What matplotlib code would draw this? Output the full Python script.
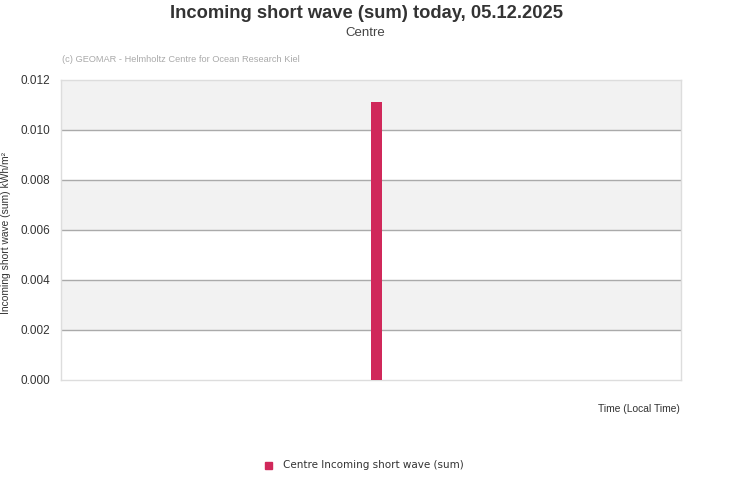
import numpy as np
import matplotlib.pyplot as plt
from matplotlib.patches import Rectangle

# data
hours = [12.2]
values = [0.01112]
yticks = [0.0, 0.002, 0.004, 0.006, 0.008, 0.010, 0.012]
bar_color = '#d0285a'

plt.rcParams['font.family'] = ['Liberation Sans', 'DejaVu Sans']

fig = plt.figure(figsize=(7.31, 5.0), dpi=100)
ax = fig.add_axes([61/731, 120/500, 620/731, 300/500])

ax.set_xlim(0, 24)
ax.set_ylim(0, 0.012)

# alternating bands
for i in range(len(yticks) - 1):
    if i % 2 == 1:
        ax.axhspan(yticks[i], yticks[i+1], color='#f2f2f2', zorder=0, lw=0)
for t in yticks[1:-1]:
    ax.axhline(t, color='#aaaaaa', lw=1, zorder=1)

ax.bar(hours, values, width=0.43, color=bar_color, zorder=3)

ax.set_yticks(yticks)
ax.set_yticklabels(['%.3f' % t for t in yticks], fontsize=8.5, color='#333333')
ax.set_xticks([])
ax.tick_params(axis='y', length=0, pad=8)
for s in ax.spines.values():
    s.set_color('#dddddd')
    s.set_linewidth(1)

fig.text(366/731, 1 - 13/500, 'Incoming short wave (sum) today, 05.12.2025',
         ha='center', va='center', fontsize=13.2, fontweight='bold', color='#333333')
fig.text(365/731, 1 - 33/500, 'Centre', ha='center', va='center', fontsize=9.5, color='#444444')
fig.text(62/731, 1 - 60/500, '(c) GEOMAR - Helmholtz Centre for Ocean Research Kiel',
         ha='left', va='center', fontsize=6.7, color='#aaaaaa')
fig.text(6/731, 1 - 233/500, 'Incoming short wave (sum) kWh/m²', rotation=90,
         ha='center', va='center', fontsize=7.4, color='#333333')
fig.text(680/731, 1 - 409/500, 'Time (Local Time)', ha='right', va='center',
         fontsize=7.4, color='#333333')

# legend
fig.patches.append(Rectangle((265/731, 1 - 469/500), 7/731, 7/500,
                             transform=fig.transFigure, color=bar_color, figure=fig))
fig.text(283/731, 1 - 465/500, 'Centre Incoming short wave (sum)', ha='left', va='center',
         fontsize=7.5, color='#333333', family=['DejaVu Sans'])

fig.savefig('out.png', dpi=100)
